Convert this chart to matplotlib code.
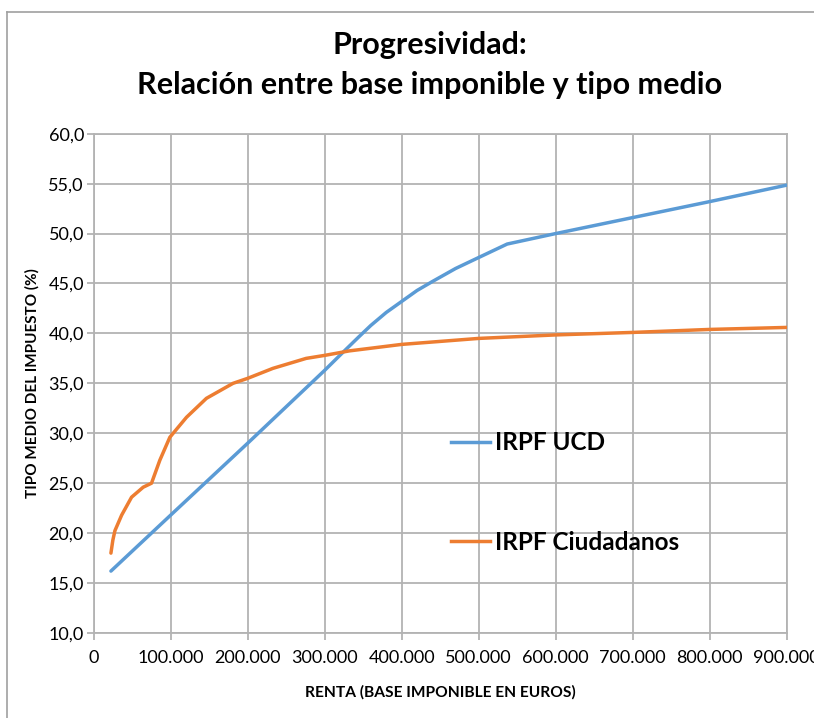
import numpy as np
import matplotlib.pyplot as plt
from matplotlib.ticker import FuncFormatter, MultipleLocator
from matplotlib.lines import Line2D

plt.rcParams['font.family'] = ['Lato', 'DejaVu Sans']

# Data (renta in euros, tipo medio in %)
renta_ucd = [22500, 100000, 200000, 300000, 325000, 345000, 360000, 380000, 400000, 420000,
             440000, 470000, 500000, 537000, 600000, 700000, 800000, 900000]
tipo_ucd = [16.2, 21.8, 29.0, 36.3, 38.2, 39.7, 40.8, 42.1, 43.2, 44.3,
            45.2, 46.5, 47.6, 48.95, 50.0, 51.6, 53.2, 54.85]

renta_cs = [22500, 25000, 27700, 36400, 49300, 64400, 75200, 86000, 99000, 120600,
            146500, 181000, 200000, 232800, 276000, 300000, 332000, 400000, 500000,
            600000, 700000, 800000, 900000]
tipo_cs = [18.0, 19.3, 20.25, 21.8, 23.6, 24.6, 25.0, 27.3, 29.6, 31.6,
           33.5, 35.0, 35.5, 36.5, 37.5, 37.8, 38.25, 38.9, 39.5,
           39.85, 40.1, 40.4, 40.6]

titulo = 'Progresividad:\nRelación entre base imponible y tipo medio'
etiqueta_x = 'RENTA (BASE IMPONIBLE EN EUROS)'
etiqueta_y = 'TIPO MEDIO DEL IMPUESTO (%)'
series = ['IRPF UCD', 'IRPF Ciudadanos']

azul = '#5b9bd5'
naranja = '#ed7d31'
gris = '#b3b3b3'

fig = plt.figure(figsize=(8.14, 7.18), dpi=100)
ax = fig.add_axes([93.6/814, 1-633/718, (786.7-93.6)/814, (633-133.7)/718])

ax.plot(renta_ucd, tipo_ucd, color=azul, lw=2.5, solid_capstyle='round', zorder=3)
ax.plot(renta_cs, tipo_cs, color=naranja, lw=2.5, solid_capstyle='round', zorder=3)

ax.set_xlim(0, 900000)
ax.set_ylim(10, 60)
ax.xaxis.set_major_locator(MultipleLocator(100000))
ax.yaxis.set_major_locator(MultipleLocator(5))
ax.xaxis.set_major_formatter(FuncFormatter(lambda v, p: '0' if v == 0 else f'{int(v):,}'.replace(',', '.')))
ax.yaxis.set_major_formatter(FuncFormatter(lambda v, p: f'{v:.1f}'.replace('.', ',')))

ax.grid(True, color=gris, lw=1.3)
ax.set_axisbelow(True)
for s in ax.spines.values():
    s.set_color(gris)
    s.set_linewidth(1.3)
ax.tick_params(axis='both', colors=gris, labelcolor='black', labelsize=13, length=5, width=1.3)
ax.tick_params(axis='x', pad=7)
ax.tick_params(axis='y', pad=2)

ax.set_xlabel(etiqueta_x, fontsize=11.2, fontweight='bold', labelpad=14)
ax.set_ylabel(etiqueta_y, fontsize=11, fontweight='bold', labelpad=6)

fig.text(0.528, 1-65/718, titulo, ha='center', va='center', fontsize=22,
         fontweight='bold', linespacing=1.5)

handles = [Line2D([], [], color=azul, lw=2.5), Line2D([], [], color=naranja, lw=2.5)]
ax.legend(handles, series, loc='upper left', bbox_to_anchor=(0.484, 0.448),
          frameon=False, prop={'size': 17.5, 'weight': 'bold'},
          handlelength=1.6, handletextpad=0.2, labelspacing=3.15)

# outer chart border (cropped at right and bottom)
fig.add_artist(Line2D([7/814, 7/814], [0, 1-12/718], color='#a0a0a0', lw=1.2, transform=fig.transFigure))
fig.add_artist(Line2D([7/814, 1], [1-12/718, 1-12/718], color='#a0a0a0', lw=1.2, transform=fig.transFigure))

fig.savefig('out.png', dpi=100)
